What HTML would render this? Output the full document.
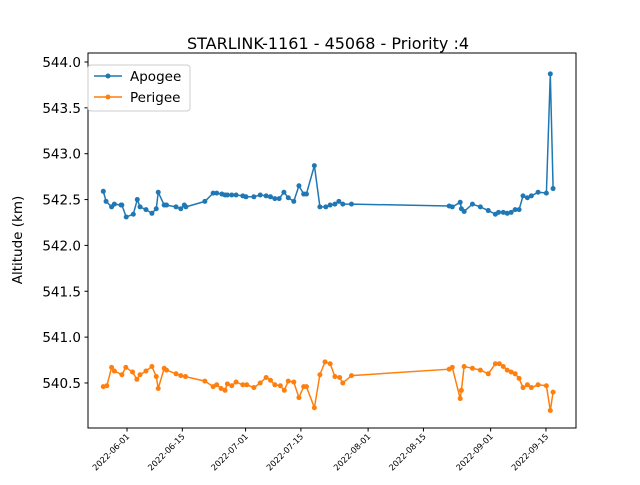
<!DOCTYPE html>
<html><head><meta charset="utf-8"><style>
body{margin:0;background:#fff;}
svg{font-family:"DejaVu Sans","Liberation Sans",sans-serif;}
</style></head><body>
<svg id="chart" width="640" height="480" xmlns="http://www.w3.org/2000/svg">
<rect width="640" height="480" fill="#fff"/>
<text x="328" y="49" text-anchor="middle" font-size="16">STARLINK-1161 - 45068 - Priority :4</text>
<text transform="translate(22,240) rotate(-90)" text-anchor="middle" font-size="13.5">Altitude (km)</text>
<g id="grid"></g>
<g id="series"></g>
<rect x="88" y="53" width="488" height="375" fill="none" stroke="#000" stroke-width="1"/>
<g>
<rect x="88" y="65" width="102" height="46" rx="3" fill="#fff" stroke="#ccc"/>
<line x1="94" y1="76" x2="122" y2="76" stroke="#1f77b4" stroke-width="1.5"/><circle cx="108" cy="76" r="2.5" fill="#1f77b4"/>
<text x="130" y="81" font-size="13.5">Apogee</text>
<line x1="94" y1="97" x2="122" y2="97" stroke="#ff7f0e" stroke-width="1.5"/><circle cx="108" cy="97" r="2.5" fill="#ff7f0e"/>
<text x="130" y="102" font-size="13.5">Perigee</text>
</g>
</svg>
<script>
// days since 2022-06-01
const apogeeDays=[-6.0,-5.3,-3.9,-3.2,-1.5,-1.3,-0.2,1.6,2.6,3.3,4.8,6.3,7.4,7.9,9.4,10.0,12.4,13.6,14.5,14.9,19.7,21.8,22.7,24.0,24.8,25.4,26.5,27.6,29.3,30.1,32.1,33.7,35.2,36.3,37.4,38.5,39.7,40.8,42.2,43.5,44.7,45.4,47.4,48.8,50.3,51.4,52.6,53.6,54.6,56.8,81.5,82.3,84.3,84.6,85.3,87.4,89.4,91.4,93.2,94.0,95.2,96.2,97.2,98.2,99.2,100.2,101.3,102.3,104.0,106.1,107.1,107.8];
const apogeeValues=[542.59,542.48,542.42,542.45,542.44,542.44,542.31,542.34,542.50,542.42,542.39,542.35,542.40,542.58,542.44,542.44,542.42,542.40,542.44,542.42,542.48,542.57,542.57,542.56,542.55,542.55,542.55,542.55,542.54,542.53,542.53,542.55,542.54,542.53,542.51,542.51,542.58,542.52,542.48,542.65,542.56,542.56,542.87,542.42,542.42,542.44,542.45,542.48,542.45,542.45,542.43,542.42,542.47,542.40,542.37,542.45,542.42,542.38,542.34,542.36,542.36,542.35,542.36,542.39,542.39,542.54,542.52,542.54,542.58,542.57,543.87,542.62];
const perigeeDays=[-6.0,-5.1,-3.9,-3.2,-1.3,-0.3,1.4,2.5,3.3,4.8,6.3,7.4,7.9,9.4,10.0,12.4,13.6,14.8,19.7,21.8,22.7,23.8,24.8,25.4,26.5,27.6,29.3,30.3,32.1,33.7,35.2,36.3,37.4,38.8,39.8,40.8,42.2,43.5,44.7,45.4,47.4,48.8,50.1,51.4,52.6,53.8,54.6,56.8,81.5,82.3,84.3,84.6,85.3,87.4,89.4,91.4,93.2,94.2,95.2,96.2,97.2,98.2,99.2,100.2,101.3,102.3,104.0,106.1,107.1,107.8];
const perigeeValues=[540.46,540.47,540.67,540.63,540.59,540.67,540.62,540.54,540.59,540.63,540.68,540.57,540.44,540.66,540.64,540.60,540.58,540.57,540.52,540.46,540.48,540.44,540.42,540.49,540.47,540.51,540.48,540.48,540.45,540.50,540.56,540.53,540.48,540.47,540.42,540.52,540.51,540.34,540.46,540.46,540.23,540.59,540.73,540.71,540.57,540.56,540.50,540.58,540.65,540.67,540.33,540.42,540.68,540.66,540.64,540.60,540.71,540.71,540.68,540.64,540.62,540.60,540.55,540.45,540.48,540.45,540.48,540.47,540.20,540.40];
const xTickLabels=["2022-06-01","2022-06-15","2022-07-01","2022-07-15","2022-08-01","2022-08-15","2022-09-01","2022-09-15"];
const yTickLabels=["540.5","541.0","541.5","542.0","542.5","543.0","543.5","544.0"];

const NS="http://www.w3.org/2000/svg";
const base=Date.UTC(2022,5,1);
const x=d=>88+(d+9.87)/(113.6+9.87)*488;
const y=v=>428-(v-540.009)/(544.098-540.009)*375;
const svg=document.getElementById('grid');
function mk(t,a,p){const e=document.createElementNS(NS,t);for(const k in a)e.setAttribute(k,a[k]);p.appendChild(e);return e;}
xTickLabels.forEach(l=>{
  const d=(Date.UTC(+l.slice(0,4),+l.slice(5,7)-1,+l.slice(8,10))-base)/864e5;
  const px=x(d);
  const t=mk('line',{x1:px,x2:px,y1:428,y2:431.5,stroke:'#000'},svg);
  
  
  const tx=mk('text',{x:px+3,y:437,'font-size':8.3,'text-anchor':'end',transform:`rotate(-45 ${px+3} 437)`},svg);
  
  
  tx.textContent=l;
});
yTickLabels.forEach(l=>{
  const py=y(+l);
  const t=mk('line',{x1:84.5,x2:88,y1:py,y2:py,stroke:'#000'},svg);
  
  
  const tx=mk('text',{x:81,y:py+5,'font-size':13.5,'text-anchor':'end'},svg);
  
  
  tx.textContent=l;
});
const sg=document.getElementById('series');
function series(days,vals,color,name){
  const g=mk('g',{},sg);
  
  
  const pts=days.map((d,i)=>x(d).toFixed(1)+','+y(vals[i]).toFixed(1)).join(' ');
  const pl=mk('polyline',{points:pts,fill:'none',stroke:color,'stroke-width':1.5},g);
  
  
  days.forEach((d,i)=>{
    const c=mk('circle',{cx:x(d),cy:y(vals[i]),r:2.5,fill:color},g);
    
    
  });
}
series(apogeeDays,apogeeValues,'#1f77b4','apogee');
series(perigeeDays,perigeeValues,'#ff7f0e','perigee');
</script>
</body></html>
